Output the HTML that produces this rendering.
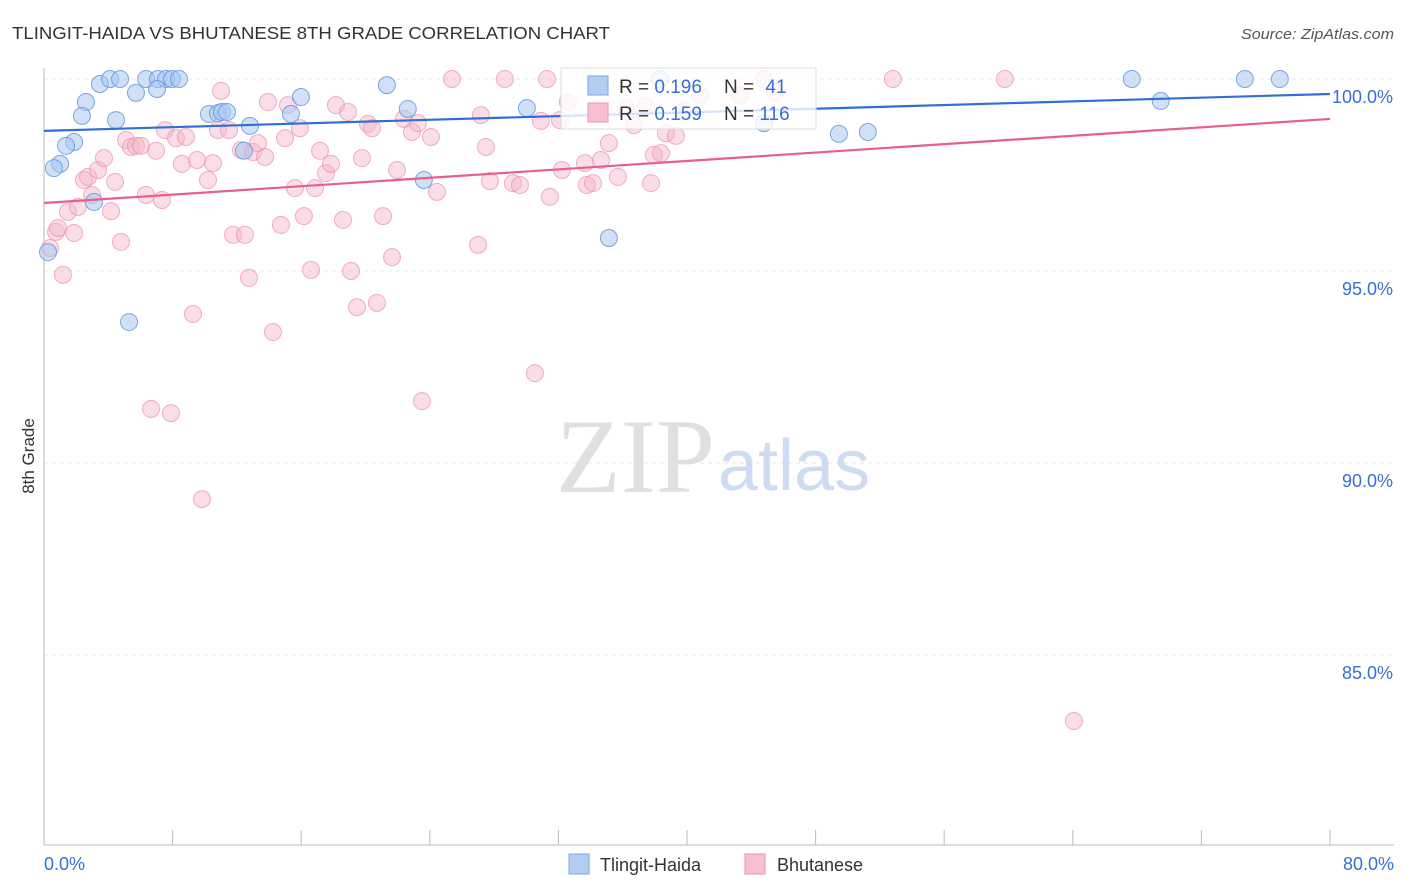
<!DOCTYPE html>
<html><head><meta charset="utf-8"><style>
body{margin:0;background:#fff;font-family:"Liberation Sans",sans-serif;}
svg{display:block}
</style></head><body>
<svg id="chart" width="1406" height="892">
<text x="12" y="39" font-size="17.5" fill="#333" textLength="598" lengthAdjust="spacingAndGlyphs">TLINGIT-HAIDA VS BHUTANESE 8TH GRADE CORRELATION CHART</text>
<text x="1394" y="39" font-size="15" fill="#555" font-style="italic" text-anchor="end" textLength="153" lengthAdjust="spacingAndGlyphs">Source: ZipAtlas.com</text>
<text x="34" y="456" font-size="17" fill="#333" transform="rotate(-90 34 456)" text-anchor="middle">8th Grade</text>
<g id="grid"></g>
<text x="715" y="492" font-size="106" fill="#e0e0e0" text-anchor="end" font-family="Liberation Serif,serif">ZIP</text>
<text x="718" y="490" font-size="72" fill="#cddcf3">atlas</text>
<g id="marks"></g>
<g>
<rect x="561" y="68" width="255" height="61" fill="#fff" fill-opacity="0.8" stroke="#ddd"/>
<rect x="588" y="76" width="20" height="19" fill="#b3cdf2" stroke="#7aa6e6"/>
<rect x="588" y="103" width="20" height="19" fill="#f7bfd0" stroke="#ea94b0"/>
<text x="619" y="93" font-size="19" fill="#333">R = <tspan fill="#3570d6">0.196</tspan></text>
<text x="724" y="93" font-size="19" fill="#333">N = <tspan fill="#3570d6" dx="6">41</tspan></text>
<text x="619" y="120" font-size="19" fill="#333">R = <tspan fill="#3570d6">0.159</tspan></text>
<text x="724" y="120" font-size="19" fill="#333">N = <tspan fill="#3570d6">116</tspan></text>
</g>
<g>
<rect x="569" y="854" width="20" height="20" fill="#b3cdf2" stroke="#7aa6e6"/>
<text x="600" y="871" font-size="18" fill="#333">Tlingit-Haida</text>
<rect x="745" y="854" width="20" height="20" fill="#f7bfd0" stroke="#ea94b0"/>
<text x="777" y="871" font-size="18" fill="#333">Bhutanese</text>
</g>
</svg>
<script>
const xTicks=[0,10,20,30,40,50,60,70,80];
const yTicks=[100,95,90,85];
const blueX=[3.48,4.11,4.73,6.35,7.09,7.59,7.96,8.40,7.03,5.72,2.61,2.36,4.48,1.87,1.37,1.00,0.62,0.25,3.11,5.29,10.26,10.82,11.07,11.38,12.81,12.44,15.36,15.98,21.33,22.63,23.63,30.04,35.14,38.31,44.78,49.45,51.25,67.67,69.47,74.70,76.88];
const blueY=[99.87,100,100,100,100,100,100,100,99.74,99.64,99.40,99.04,98.93,98.36,98.26,97.79,97.68,95.49,96.80,93.67,99.09,99.11,99.14,99.14,98.78,98.13,99.09,99.53,99.84,99.22,97.37,99.24,95.86,100,98.85,98.57,98.62,100,99.43,100,100];
const pinkX=[0.37,0.75,1.18,1.49,1.87,2.11,2.49,2.74,2.99,3.36,3.73,4.17,4.42,4.79,5.10,5.41,5.72,6.03,6.34,6.66,6.97,7.34,7.53,7.90,8.21,8.58,8.83,9.27,9.52,9.83,10.20,10.51,10.82,11.01,11.51,11.76,12.25,12.50,12.75,13.00,13.31,13.75,13.93,14.24,14.74,14.99,15.18,15.61,15.92,16.17,16.61,16.86,17.17,17.54,17.85,18.16,18.60,18.91,19.10,19.47,19.78,20.15,20.40,20.71,21.09,21.65,21.96,22.39,22.89,23.26,23.51,24.07,24.44,25.38,27.00,27.18,27.49,27.74,28.67,29.17,29.61,30.54,30.91,31.29,31.47,32.10,32.22,32.59,33.65,33.77,34.15,34.65,35.14,35.70,36.20,36.70,37.44,37.76,37.94,38.38,38.69,39.31,39.81,40.80,43.29,44.78,45.47,52.81,59.77,64.07,0.87];
const pinkY=[95.60,96.02,94.90,96.54,95.99,96.67,97.37,97.45,96.98,97.63,97.94,96.56,97.32,95.76,98.41,98.23,98.26,98.26,96.98,91.41,98.13,96.85,98.67,91.30,98.46,97.79,98.49,93.88,97.89,89.06,97.37,97.81,98.67,99.69,98.67,95.94,98.15,95.94,94.82,98.10,98.33,97.97,99.40,93.41,96.20,98.46,99.32,97.16,98.72,96.43,95.03,97.16,98.13,97.55,97.79,99.32,96.33,99.14,95.00,94.06,97.94,98.83,98.72,94.17,96.43,95.36,97.63,98.96,98.62,98.85,91.61,98.49,97.06,100,95.68,99.06,98.23,97.34,100,97.29,97.24,92.34,98.91,100,96.93,98.93,97.63,99.40,97.81,97.24,97.29,97.89,98.33,97.45,99.24,98.80,99.30,97.29,98.02,98.07,98.59,98.52,99.17,99.58,99.58,100,99.66,100,100,83.28,96.12];
const blueTrend=[98.65,99.61];
const pinkTrend=[96.77,98.96];
const NS='http://www.w3.org/2000/svg';
const X=v=>44+v*16.075, Y=v=>79+(100-v)*38.4;
function mk(tag,attrs,parent){const e=document.createElementNS(NS,tag);for(const k in attrs)e.setAttribute(k,attrs[k]);parent.appendChild(e);return e;}
const grid=document.getElementById('grid'), marks=document.getElementById('marks');
yTicks.forEach(t=>{
 const l=mk('line',{x1:44,x2:1394,y1:Y(t),y2:Y(t),stroke:'#e4e4e4','stroke-dasharray':'4,4'},grid);
 
 
 const tx=mk('text',{x:1393,y:Y(t)+24,'font-size':18,fill:'#3570d6','text-anchor':'end'},grid);
 tx.textContent=t.toFixed(1)+'%';
 
 
});
const ax=mk('line',{x1:44,x2:44,y1:68,y2:845,stroke:'#bbb'},grid);


const bx=mk('line',{x1:44,x2:1394,y1:845,y2:845,stroke:'#bbb'},grid);


for(let i=0;i<=10;i++){const t=mk('line',{x1:X(i*8),x2:X(i*8),y1:830,y2:845,stroke:'#bbb'},grid);
 
 }
[[0,'start',44],[80,'end',1394]].forEach(([v,a,px])=>{const t=mk('text',{x:px,y:870,'font-size':18,fill:'#3570d6','text-anchor':a},grid);t.textContent=v.toFixed(1)+'%';
 
 });
pinkX.forEach((x,i)=>{const c=mk('circle',{cx:X(x),cy:Y(pinkY[i]),r:8.5,fill:'#f5b3c7','fill-opacity':0.45,stroke:'#e990ad','stroke-opacity':0.7},marks);
 
 });
blueX.forEach((x,i)=>{const c=mk('circle',{cx:X(x),cy:Y(blueY[i]),r:8.5,fill:'#a8c6f0','fill-opacity':0.55,stroke:'#5f93dc','stroke-opacity':0.8},marks);
 
 });
const bl=mk('line',{x1:X(0),x2:X(80),y1:Y(blueTrend[0]),y2:Y(blueTrend[1]),stroke:'#2f6fd6','stroke-width':2.2},marks);


const pl=mk('line',{x1:X(0),x2:X(80),y1:Y(pinkTrend[0]),y2:Y(pinkTrend[1]),stroke:'#e7608d','stroke-width':2.2},marks);


</script>
</body></html>
